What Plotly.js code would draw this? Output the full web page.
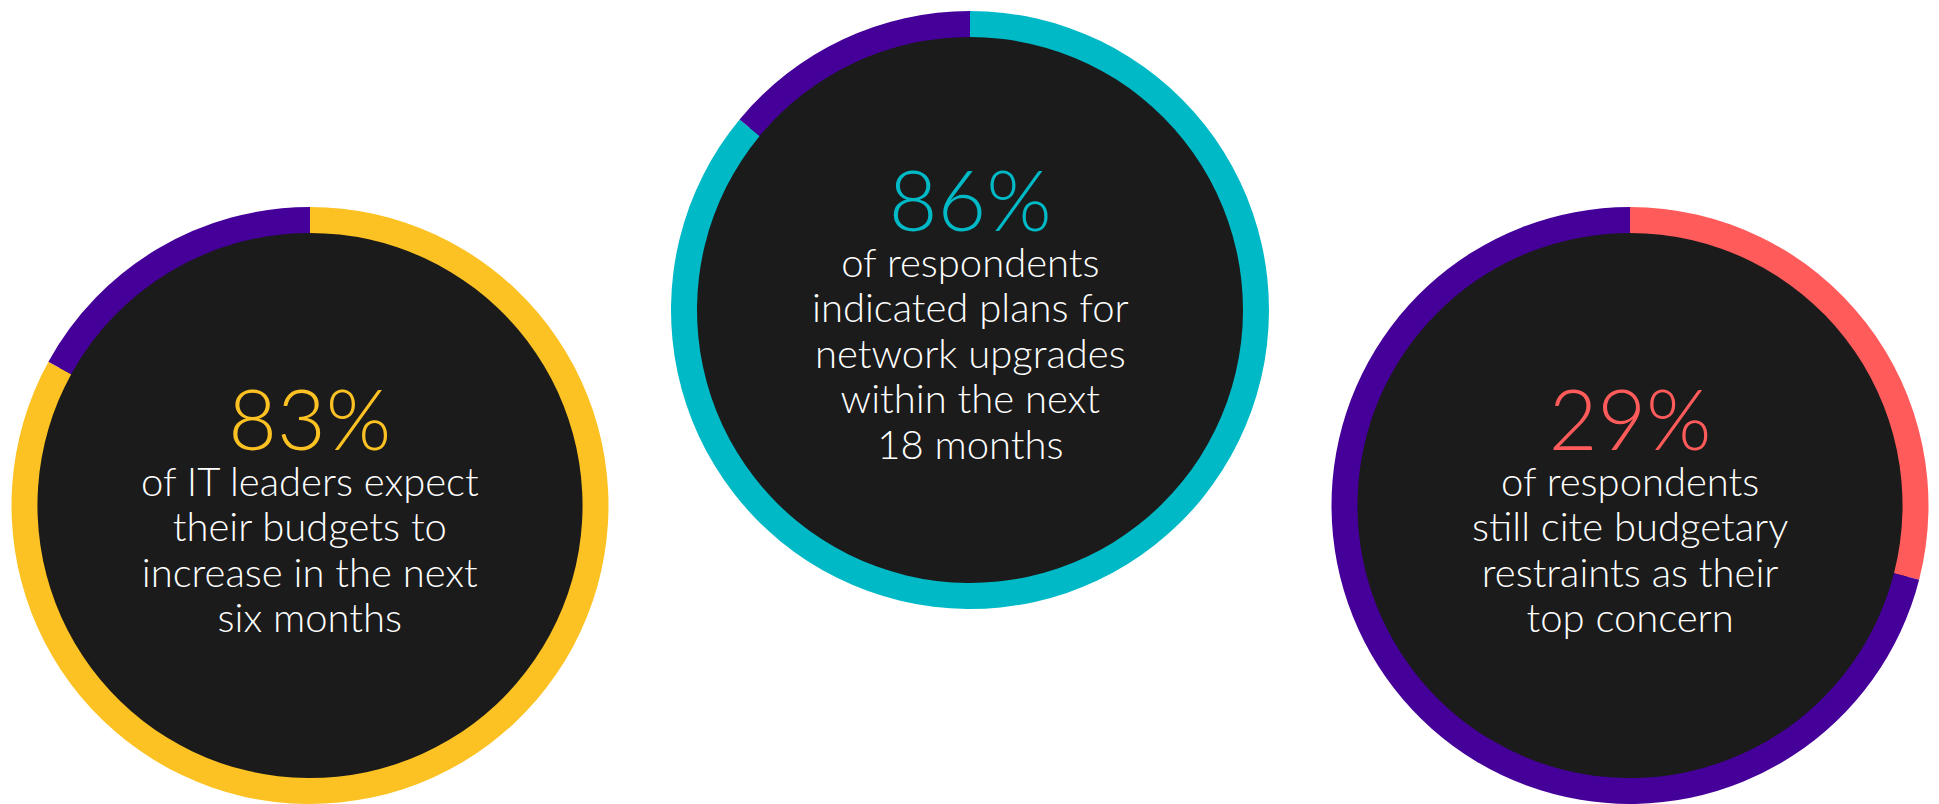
<!DOCTYPE html>
<html>
<head>
<meta charset="utf-8">
<script src="https://cdn.plot.ly/plotly-3.0.1.min.js"></script>
<style>
html,body{margin:0;padding:0;background:#ffffff;overflow:hidden}
#chart{width:1939px;height:804px}
</style>
</head>
<body>
<div id="chart"></div>
<script>
// ---- data ----
const headlineValues = [83, 86, 29];
const remainderValues = [17, 14, 71];
const headlineLabels = ['83%', '86%', '29%'];
const segmentLabels = ['Share', 'Rest'];
const captions = [
  ['of IT leaders expect', 'their budgets to', 'increase in the next', 'six months'],
  ['of respondents', 'indicated plans for', 'network upgrades', 'within the next', '18 months'],
  ['of respondents', 'still cite budgetary', 'restraints as their', 'top concern']
];

// ---- style / layout ----
const W = 1939, H = 804;
const headlineColors = ['#FCC223', '#00B9C6', '#FF5B5B'];
const remainderColor = '#45009A';
const discColor = '#1B1B1B';
const centers = [[310, 506], [970, 310], [1630, 506]];
const rOuter = 299, rInner = 273, rDisc = 286;
const percentBaseline = [449.5, 231, 449.5];
const FONT = 'Lato, "Open Sans", sans-serif';
const baseSize = 35;          // sets line pitch (1.3 x baseSize)
const pctSize = 84, bodySize = 40;
const ASC = 0.987;            // font ascent ratio

function clamp(v){ return Math.max(0, Math.min(1, v)); }
function domainFor(cx, cy, r){
  return {
    x: [clamp((cx - r) / W), clamp((cx + r) / W)],
    y: [clamp(1 - (cy + r) / H), clamp(1 - (cy - r) / H)]
  };
}

const traces = [];
const annotations = [];
centers.forEach(([cx, cy], i) => {
  traces.push({
    type: 'pie',
    values: [1],
    labels: ['disc' + i],
    marker: {colors: [discColor], line: {width: 0}},
    domain: domainFor(cx, cy, rDisc),
    textinfo: 'none', hoverinfo: 'skip', showlegend: false, sort: false
  });
  traces.push({
    type: 'pie',
    values: [headlineValues[i], remainderValues[i]],
    labels: segmentLabels.map(l => l + ' ' + i),
    marker: {colors: [headlineColors[i], remainderColor], line: {width: 0}},
    hole: rInner / rOuter,
    domain: domainFor(cx, cy, rOuter),
    sort: false, direction: 'clockwise', rotation: 0,
    textinfo: 'none', hoverinfo: 'label+value', showlegend: false
  });

  const text =
    '<span style="font-size:' + pctSize + 'px;color:' + headlineColors[i] + '">' + headlineLabels[i] + '</span>' +
    captions[i].map(l => '<br><span style="font-size:' + bodySize + 'px">' + l + '</span>').join('');

  const topPx = percentBaseline[i] - ASC * pctSize - 2;
  annotations.push({
    xref: 'paper', yref: 'paper',
    x: cx / W, y: 1 - topPx / H,
    xanchor: 'center', yanchor: 'top', align: 'center',
    text: text, showarrow: false,
    font: {family: FONT, size: baseSize, color: '#FFFFFF', weight: 300}
  });
});

const layout = {
  width: W, height: H,
  margin: {l: 0, r: 0, t: 0, b: 0, pad: 0},
  paper_bgcolor: '#FFFFFF', plot_bgcolor: '#FFFFFF',
  showlegend: false,
  annotations: annotations
};

Plotly.newPlot('chart', traces, layout, {displayModeBar: false, staticPlot: true});
</script>
</body>
</html>
